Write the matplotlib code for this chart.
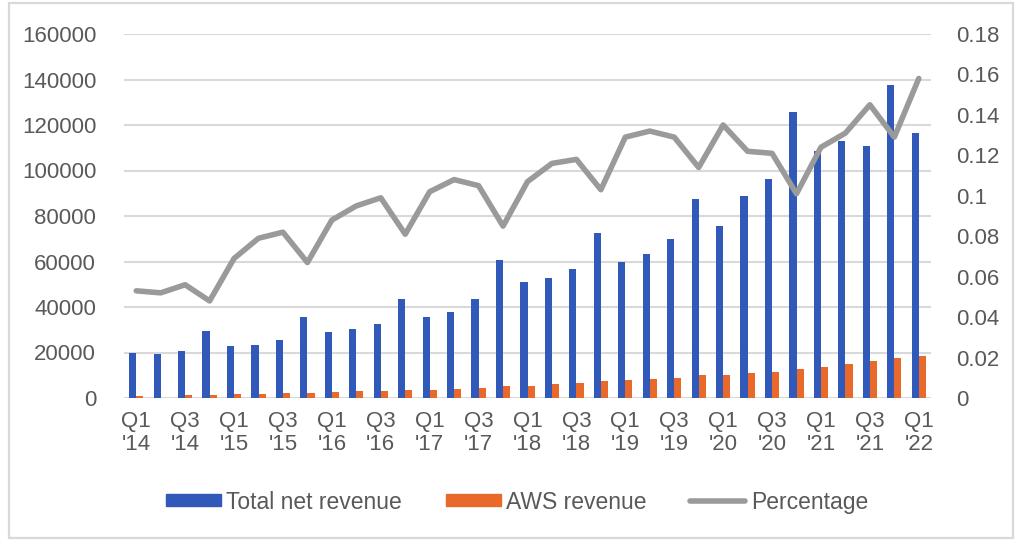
import matplotlib
matplotlib.use("Agg")
import matplotlib.pyplot as plt
from matplotlib.lines import Line2D
from matplotlib.patches import Patch, Rectangle
import numpy as np

quarters = ["Q1 '14", "Q2 '14", "Q3 '14", "Q4 '14", "Q1 '15", "Q2 '15", "Q3 '15", "Q4 '15",
            "Q1 '16", "Q2 '16", "Q3 '16", "Q4 '16", "Q1 '17", "Q2 '17", "Q3 '17", "Q4 '17",
            "Q1 '18", "Q2 '18", "Q3 '18", "Q4 '18", "Q1 '19", "Q2 '19", "Q3 '19", "Q4 '19",
            "Q1 '20", "Q2 '20", "Q3 '20", "Q4 '20", "Q1 '21", "Q2 '21", "Q3 '21", "Q4 '21",
            "Q1 '22"]
total_rev = [19700, 19300, 20600, 29300, 22700, 23200, 25400, 35700, 29100, 30400, 32700,
             43700, 35700, 38000, 43700, 60500, 51000, 52900, 56600, 72400, 59700, 63400,
             70000, 87400, 75500, 88900, 96100, 125600, 108500, 113100, 110800, 137400, 116400]
# Q2 '14 AWS bar is absent in the source chart
aws_rev = [1000, 0, 1170, 1420, 1570, 1820, 2090, 2410, 2570, 2890, 3230, 3540, 3660, 4100,
           4580, 5110, 5440, 6110, 6680, 7430, 7700, 8380, 9000, 9950, 10200, 10800, 11600,
           12700, 13500, 14800, 16100, 17800, 18400]
percentage = [0.053, 0.052, 0.056, 0.048, 0.069, 0.079, 0.082, 0.067, 0.088, 0.095, 0.099,
              0.081, 0.102, 0.108, 0.105, 0.085, 0.107, 0.116, 0.118, 0.103, 0.129, 0.132,
              0.129, 0.114, 0.135, 0.122, 0.121, 0.101, 0.124, 0.131, 0.145, 0.129, 0.158]

BLUE = "#3159b9"
ORANGE = "#e8692a"
GREY = "#9a9a9a"
TXT = "#595959"
GRID = "#d9d9d9"

plt.rcParams["font.family"] = ["Liberation Sans", "DejaVu Sans"]

fig = plt.figure(figsize=(10.24, 5.56), dpi=100)
ax = fig.add_axes([124 / 1024, 1 - 398 / 556, (931 - 124) / 1024, (398 - 34) / 556])
ax2 = ax.twinx()

x = np.arange(len(quarters))
w = 0.29
ax.bar(x - w / 2, total_rev, w, color=BLUE, zorder=2)
ax.bar(x + w / 2, aws_rev, w, color=ORANGE, zorder=2)
ax2.plot(x, percentage, color=GREY, lw=4, solid_joinstyle="round",
         solid_capstyle="round", zorder=3)

ax.set_xlim(-0.5, len(quarters) - 0.5)
ax.set_ylim(0, 160000)
ax.set_yticks(range(0, 160001, 20000))
ax.set_yticklabels([str(v) for v in range(0, 160001, 20000)])
ax2.set_ylim(0, 0.18)
ticks2 = [i * 0.02 for i in range(10)]
ax2.set_yticks(ticks2)
ax2.set_yticklabels(["0", "0.02", "0.04", "0.06", "0.08", "0.1", "0.12", "0.14", "0.16", "0.18"])

ax.set_xticks(x[::2])
ax.set_xticklabels([q.replace(" ", "\n") for q in quarters[::2]], linespacing=1.15)

ax.grid(axis="y", color=GRID, lw=1.5, zorder=0)
ax.set_axisbelow(True)
for a in (ax, ax2):
    for s in a.spines.values():
        s.set_visible(False)
    a.tick_params(length=0, colors=TXT, labelsize=16)
ax.tick_params(axis="y", pad=20)
ax2.tick_params(axis="y", pad=18)
ax.tick_params(axis="x", pad=9)

handles = [Patch(color=BLUE, label="Total net revenue"),
           Patch(color=ORANGE, label="AWS revenue"),
           Line2D([0], [0], color=GREY, lw=4, solid_capstyle="round", label="Percentage")]
leg = fig.legend(handles=handles, loc="center", bbox_to_anchor=(517 / 1024, 1 - 502 / 556),
                 ncol=3, frameon=False, fontsize=16.5, handlelength=2.4, handleheight=0.45,
                 handletextpad=0.25, columnspacing=1.9)
for t in leg.get_texts():
    t.set_color(TXT)

fig.patches.append(Rectangle((9 / 1024, 1 - 538 / 556), 1004 / 1024, 535 / 556,
                             transform=fig.transFigure, fill=False, edgecolor=GRID, lw=1.6))

fig.savefig("out.png", dpi=100)
